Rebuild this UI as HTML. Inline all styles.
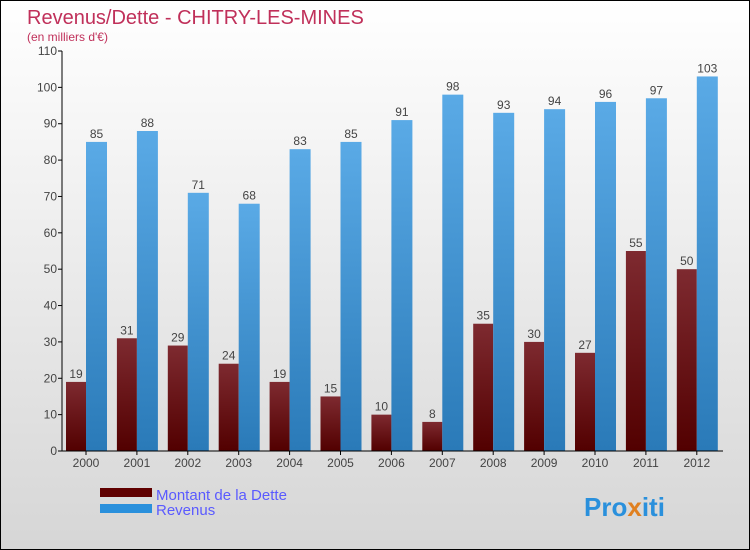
<!DOCTYPE html>
<html><head><meta charset="utf-8"><style>
body{margin:0}
#c{position:relative;width:748px;height:548px;border:1px solid #000;background:linear-gradient(#fff,#d6d6d6);font-family:"Liberation Sans",sans-serif;overflow:hidden}
svg{position:absolute;left:0;top:0}
</style></head><body>
<div id="c">
<svg id="s" width="748" height="548">
<defs>
<linearGradient id="gd" x1="0" y1="0" x2="0" y2="1"><stop offset="0" stop-color="#7e2a30"/><stop offset="1" stop-color="#520000"/></linearGradient>
<linearGradient id="gr" x1="0" y1="0" x2="0" y2="1"><stop offset="0" stop-color="#5aaae6"/><stop offset="1" stop-color="#2a7ab8"/></linearGradient>
</defs>
<text x="26" y="23" font-size="20" fill="#c0305a">Revenus/Dette - CHITRY-LES-MINES</text>
<text x="26" y="40" font-size="12" fill="#c0305a">(en milliers d'€)</text>
<rect x="99" y="487" width="52" height="9" fill="#600000"/>
<rect x="99" y="503" width="52" height="9" fill="#2a90dc"/>
<text x="155" y="499" font-size="15" fill="#5a5aff">Montant de la Dette</text>
<text x="155" y="514" font-size="15" fill="#5a5aff">Revenus</text>
<text x="583" y="515" font-size="26" font-weight="bold" fill="#2a90dc">Pro<tspan fill="#e08020">x</tspan>iti</text>
</svg>
</div>
<script>
const years=["2000","2001","2002","2003","2004","2005","2006","2007","2008","2009","2010","2011","2012"];
const debt=[19,31,29,24,19,15,10,8,35,30,27,55,50];
const revenue=[85,88,71,68,83,85,91,98,93,94,96,97,103];
const yTicks=[0,10,20,30,40,50,60,70,80,90,100,110];
const s=document.getElementById('s');
const NS="http://www.w3.org/2000/svg";
const x0=61,step=50.9,yB=450,ppu=400/110;
const Y=v=>yB-v*ppu, X=i=>x0+4+i*step;
function el(t,a,txt){const e=document.createElementNS(NS,t);for(const k in a)e.setAttribute(k,a[k]);if(txt!==undefined)e.textContent=txt;s.appendChild(e);return e;}
yTicks.forEach(v=>{
const l=el('line',{x1:x0-4,x2:x0,y1:Y(v),y2:Y(v),stroke:'#000'});


const t=el('text',{x:x0-5,y:Y(v)+4,'text-anchor':'end','font-size':12,fill:'#444'},v);


});
years.forEach((y,i)=>{
const bx=X(i);
const r1=el('rect',{x:bx,y:Y(debt[i]),width:20,height:debt[i]*ppu,fill:'url(#gd)'});


const r2=el('rect',{x:bx+20,y:Y(revenue[i]),width:21,height:revenue[i]*ppu,fill:'url(#gr)'});


const t1=el('text',{x:bx+10,y:Y(debt[i])-4,'text-anchor':'middle','font-size':12,fill:'#444'},debt[i]);


const t2=el('text',{x:bx+30.5,y:Y(revenue[i])-4,'text-anchor':'middle','font-size':12,fill:'#444'},revenue[i]);


const tk=el('line',{x1:bx+20,x2:bx+20,y1:yB,y2:yB+4,stroke:'#000'});


const tl=el('text',{x:bx+20,y:yB+16,'text-anchor':'middle','font-size':12,fill:'#444'},y);


});
const ax=el('line',{x1:x0,x2:x0,y1:Y(110),y2:yB,stroke:'#000'});


const bx=el('line',{x1:x0,x2:722,y1:yB,y2:yB,stroke:'#000'});


</script>
</body></html>
